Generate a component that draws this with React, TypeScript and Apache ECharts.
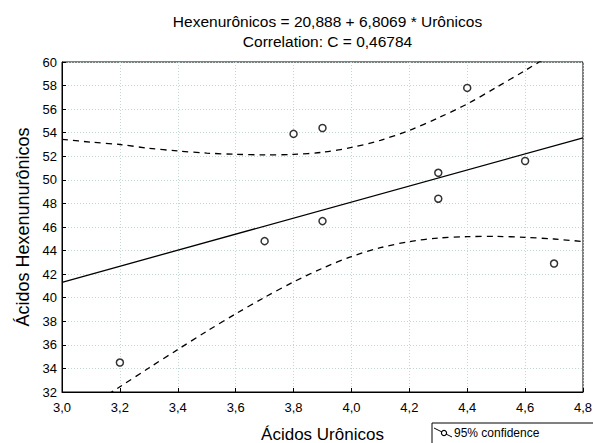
import React, { useEffect, useRef } from "react";
import * as echarts from "echarts";

const titleLines = ["Hexenurônicos = 20,888 + 6,8069 * Urônicos", "Correlation: C = 0,46784"];
const xName = "Ácidos Urônicos";
const yName = "Ácidos Hexenunurônicos";
const legendLabel = "95% confidence";

// observed points (Urônicos, Hexenurônicos)
const uronicos = [3.2, 3.7, 3.8, 3.9, 3.9, 4.3, 4.3, 4.4, 4.6, 4.7];
const hexenuronicos = [34.5, 44.8, 53.9, 54.4, 46.5, 50.6, 48.4, 57.8, 51.6, 42.9];

// fitted line endpoints
const fitX = [3.0, 4.8];
const fitY = [41.31, 53.56];

// 95% confidence band
const bandX = [3.0, 3.1, 3.2, 3.3, 3.4, 3.5, 3.6, 3.7, 3.8, 3.9, 4.0, 4.1, 4.2, 4.3, 4.4, 4.5, 4.6, 4.7, 4.8];
const bandUpper = [53.44, 53.2, 53.0, 52.68, 52.45, 52.27, 52.17, 52.12, 52.16, 52.34, 52.75, 53.36, 54.2, 55.26, 56.44, 57.84, 59.28, 60.78, 62.35];
const bandLower = [29.2, 30.86, 32.44, 34.04, 35.6, 37.15, 38.63, 40.03, 41.34, 42.5, 43.49, 44.24, 44.76, 45.06, 45.18, 45.2, 45.12, 44.98, 44.77];

const FONT = "Liberation Sans, Arial, sans-serif";

export default function App() {
  const ref = useRef<HTMLDivElement>(null);
  useEffect(() => {
    if (!ref.current) return;
    const chart = echarts.init(ref.current, undefined, { renderer: "svg" });
    const fmt = (v: number) => v.toFixed(1).replace(".", ",");
    chart.setOption({
      animation: false,
      backgroundColor: "#fff",
      textStyle: { fontFamily: FONT },
      title: {
        text: titleLines.join("\n"),
        left: 322.5,
        textAlign: "center",
        top: 6,
        textStyle: { fontFamily: FONT, fontSize: 15.5, fontWeight: "normal", color: "#000", lineHeight: 20 },
      },
      grid: {
        left: 62, right: 10, top: 62, bottom: 51,
        containLabel: false, outerBoundsMode: "none",
        show: true, borderColor: "#000", borderWidth: 1, backgroundColor: "transparent",
      },
      xAxis: {
        type: "value",
        min: 3.0,
        max: 4.8,
        interval: 0.2,
        name: xName,
        nameLocation: "middle",
        nameGap: 34,
        nameTextStyle: { fontFamily: FONT, fontSize: 17, color: "#000" },
        axisLine: { show: true, lineStyle: { color: "#000", width: 1 } },
        axisTick: { show: true, inside: true, length: 4, lineStyle: { color: "#000" } },
        axisLabel: { formatter: fmt, fontSize: 13, color: "#000", fontFamily: FONT, margin: 9 },
        splitLine: { show: true, lineStyle: { color: "#c5d6d6", type: [1, 2], width: 1 } },
      },
      yAxis: {
        type: "value",
        min: 32,
        max: 60,
        interval: 2,
        name: yName,
        nameLocation: "middle",
        nameGap: 30,
        nameTextStyle: { fontFamily: FONT, fontSize: 18, color: "#000" },
        axisLine: { show: true, lineStyle: { color: "#000", width: 1 } },
        axisTick: { show: true, inside: true, length: 4, lineStyle: { color: "#000" } },
        axisLabel: { fontSize: 13, color: "#000", fontFamily: FONT, margin: 5 },
        splitLine: { show: true, lineStyle: { color: "#c5d6d6", type: [1, 2], width: 1 } },
      },
      series: [
        {
          type: "line",
          data: bandX.map((x, i) => [x, bandUpper[i]]),
          smooth: 0.3,
          symbol: "none",
          clip: true,
          lineStyle: { color: "#000", width: 1.3, type: [6, 5] },
          z: 2,
        },
        {
          type: "line",
          data: bandX.map((x, i) => [x, bandLower[i]]),
          smooth: 0.3,
          symbol: "none",
          clip: true,
          lineStyle: { color: "#000", width: 1.3, type: [6, 5] },
          z: 2,
        },
        {
          type: "line",
          data: fitX.map((x, i) => [x, fitY[i]]),
          symbol: "none",
          clip: true,
          lineStyle: { color: "#000", width: 1.3 },
          z: 3,
        },
        {
          type: "scatter",
          data: uronicos.map((x, i) => [x, hexenuronicos[i]]),
          symbol: "circle",
          symbolSize: 7,
          itemStyle: { color: "#fff", borderColor: "#000", borderWidth: 1.5 },
          z: 4,
        },
      ],
      graphic: [
        {
          type: "group",
          children: [
            { type: "rect", shape: { x: 432, y: 423, width: 170, height: 30 }, style: { fill: "#fff", stroke: "#000", lineWidth: 1 } },
            { type: "line", shape: { x1: 434, y1: 428, x2: 452, y2: 437 }, style: { stroke: "#000", lineWidth: 1 } },
            { type: "circle", shape: { cx: 444, cy: 433, r: 2.6 }, style: { fill: "#fff", stroke: "#000", lineWidth: 1.2 } },
            { type: "text", x: 454, y: 433, style: { text: legendLabel, fontSize: 12, fontFamily: FONT, fill: "#000", verticalAlign: "middle", align: "left" } },
          ],
        },
      ],
    });
    return () => chart.dispose();
  }, []);
  return <div ref={ref} style={{ position: "fixed", left: 0, top: 0, width: 593, height: 443 }} />;
}
